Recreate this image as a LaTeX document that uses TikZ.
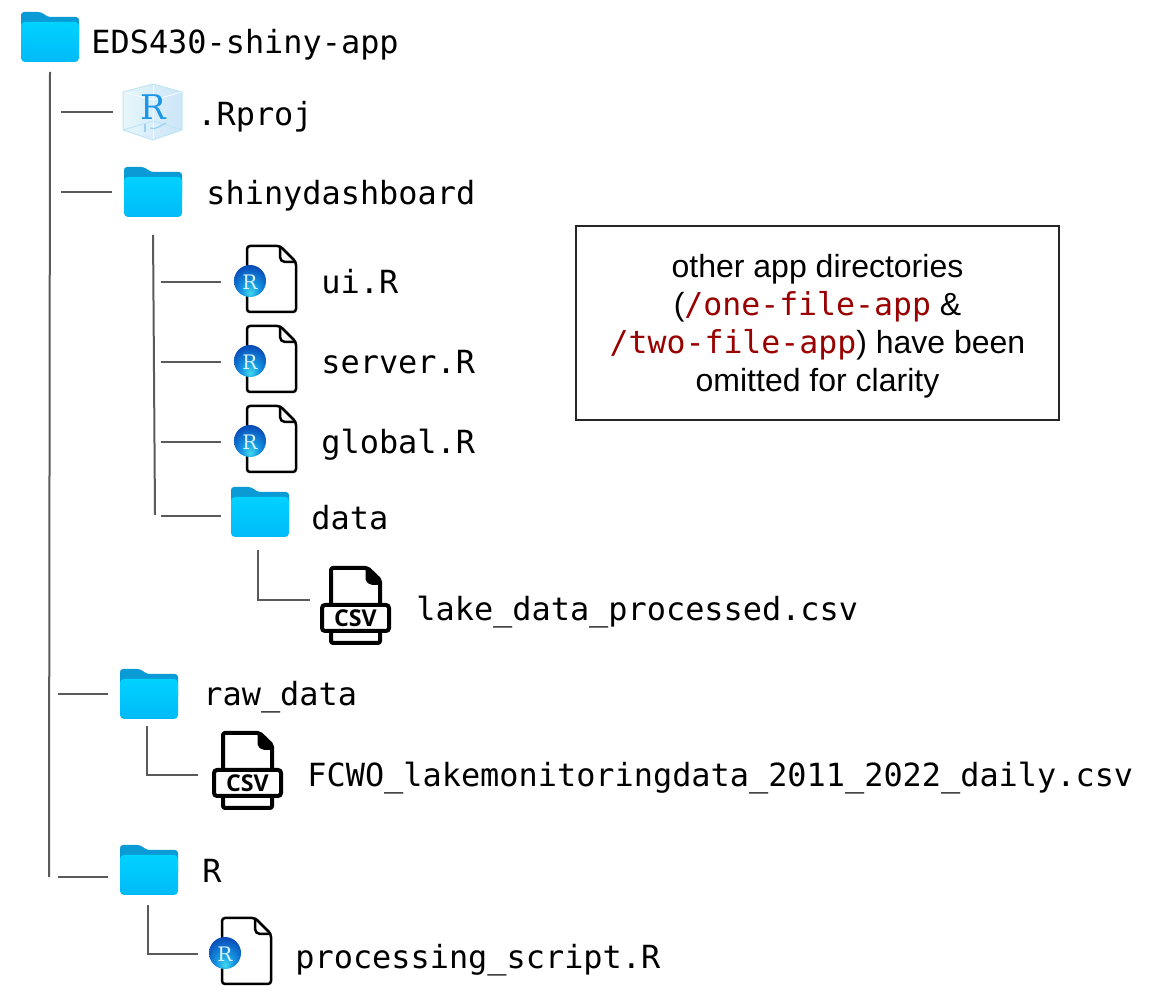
\documentclass[tikz,border=0pt]{standalone}
\usepackage{fontspec}
\setmainfont{Liberation Sans}
\newfontfamily\codefont{DejaVu Sans Mono}
\newfontfamily\iconserif{DejaVu Serif}
\newfontfamily\csvfont{Open Sans}
\definecolor{folderback}{HTML}{0A9BD6}
\definecolor{foldertop}{HTML}{00D2FF}
\definecolor{folderbottom}{HTML}{00BAF8}
\definecolor{cubeleft}{HTML}{E6F6FA}
\definecolor{cuberight}{HTML}{CCE5F8}
\definecolor{cubeedge}{HTML}{BFE6F4}
\definecolor{rblue}{HTML}{1C96E6}
\definecolor{treeline}{HTML}{5A5A5A}
\definecolor{codered}{HTML}{990000}
\pgfdeclareradialshading{rball}{\pgfpoint{0bp}{-20bp}}{rgb(0bp)=(.25,.85,.93);rgb(14bp)=(.08,.58,.88);rgb(30bp)=(.04,.32,.74);rgb(50bp)=(.03,.22,.58)}
\tikzstyle{every node}+=[inner sep=0pt]
\tikzstyle{filename}=[anchor=base west,font=\codefont\fontsize{15.95}{19}\selectfont]
\tikzstyle{conn}=[treeline,line width=1pt]
\tikzstyle{foldericonbox}=[minimum width=29pt,minimum height=25pt,outer sep=6pt]
\tikzstyle{rfileiconbox}=[minimum width=16pt,minimum height=16pt,outer sep=6.5pt]
\tikzstyle{csviconbox}=[minimum width=35.5pt,minimum height=1pt,outer sep=5pt]
\tikzstyle{notebox}=[draw=black!85,line width=1pt,minimum width=241.5pt,minimum height=97pt,align=center,font=\fontsize{16}{19}\selectfont]
\newcommand{\foldericon}[3]{
\begin{scope}[shift={(#2,#3)}]
\fill [folderback,rounded corners=1.5pt] (0,5) -- (0,-25) -- (20,-25) -- (27,-20) -- (58,-20) -- (58,5) -- cycle;
\shade [top color=foldertop,bottom color=folderbottom,rounded corners=2pt] (0,-15) rectangle (58,25);
\node [foldericonbox] (#1) at (29,0) {};
\end{scope}}
\newcommand{\rfileicon}[3]{
\begin{scope}[shift={(#2,#3)}]
\draw [black,fill=white,line width=1.25pt,line join=round,rounded corners=1.5pt] (-3,-36) -- (30,-36) -- (46,-20) -- (46,30) -- (-3,30) -- cycle;
\draw [black,line width=1.25pt,rounded corners=2.5pt] (30,-36) -- (30,-20) -- (46,-20);
\shade [shading=rball] (0,-1) circle (16);
\node [rfileiconbox,text=white!85!cyan,font=\iconserif\fontsize{10}{10}\selectfont] (#1) at (0,0) {R};
\end{scope}}
\newcommand{\csvicon}[4]{
\begin{scope}[shift={(#2,#3)}]
\draw [black,line width=2pt,line join=round,fill=white,rounded corners=1pt] (-24.5,-32) -- (12,-32) -- (24.5,-20) -- (24.5,43) -- (-24.5,43) -- cycle;
\fill [black,rounded corners=1pt] (10,-33) -- (25.5,-19) -- (25.5,-15) -- (15,-15) -- (10,-19) -- cycle;
\draw [black,line width=2pt,fill=white,rounded corners=1.5pt] (-33.5,5) rectangle (33.5,31);
\node [csviconbox] (#1) at (0,#4) {};
\node [font=\csvfont\bfseries\fontsize{11.6}{11.6}\selectfont] (#1text) at (0,18) {CSV};
\end{scope}}
\begin{document}
\begin{tikzpicture}[x=0.5pt,y=-0.5pt]
\useasboundingbox (0,0) rectangle (1152,1004);

\foldericon{rootfolder}{21}{37}
\node [filename] (rootlabel) at (91,54) {EDS430-shiny-app};

\shade [left color=cubeleft,right color=cuberight] (153,84) -- (182,92) -- (182,130) -- (153,140) -- (123,130) -- (123,92) -- cycle;
\draw [white!80!cubeedge,line width=.5pt] (123,92) -- (153,100) -- (182,92);
\draw [white!80!cubeedge,line width=.5pt] (153,84) -- (153,140);
\draw [cubeedge,line width=.5pt] (123,130) -- (153,121) -- (182,130);
\draw [cubeedge,line width=.5pt] (123,92) -- (153,84) -- (182,92) -- (182,130) -- (153,140) -- (123,130) -- cycle;
\draw [rblue!45,line width=.6pt] (145,124) -- (145,132);
\draw [rblue!45,line width=.6pt] (150,128) .. controls (158,130) and (160,125) .. (166,123);
\node [minimum width=29.5pt,minimum height=28pt,outer sep=5.5pt] (rprojcube) at (153,112) {};
\node [rblue,font=\iconserif\fontsize{17}{17}\selectfont] (rprojletter) at (153,107.5) {R};
\node [filename] (rprojlabel) at (197,126) {.Rproj};

\foldericon{shinyfolder}{124}{192}
\node [filename] (shinylabel) at (206,205) {shinydashboard};

\rfileicon{uifile}{250}{282}
\node [filename] (uilabel) at (321,294) {ui.R};
\rfileicon{serverfile}{250}{362}
\node [filename] (serverlabel) at (321,374) {server.R};
\rfileicon{globalfile}{250}{442}
\node [filename] (globallabel) at (321,454) {global.R};

\foldericon{datafolder}{231}{512}
\node [filename] (datalabel) at (311,530) {data};
\csvicon{lakecsv}{355.5}{600}{0}
\node [filename] (lakelabel) at (416,621) {lake\_data\_processed.csv};

\foldericon{rawfolder}{120}{694}
\node [filename] (rawlabel) at (203,706) {raw\_data};
\csvicon{rawcsv}{247.5}{765}{10}
\node [filename] (rawcsvlabel) at (307,787) {FCWO\_lakemonitoringdata\_2011\_2022\_daily.csv};

\foldericon{rfolder}{120}{870}
\node [filename] (rlabel) at (202,883) {R};
\rfileicon{scriptfile}{225}{954}
\node [filename] (scriptlabel) at (295,969) {processing\_script.R};

\node [notebox] (omitnote) at (817.5,323) {\rule{0pt}{15pt}other app directories\\(\textcolor{codered}{\codefont\fontsize{15.75}{19}\selectfont/one-file-app} \&\\\textcolor{codered}{\codefont\fontsize{15.75}{19}\selectfont/two-file-app}) have been\\omitted for clarity};

\coordinate (trunkend) at (49,877);
\coordinate (rprojstart) at (61,112);
\coordinate (shinystart) at (61,192);
\coordinate (rawstart) at (58,694);
\coordinate (rstart) at (58,877);
\coordinate (dashend) at (155,515);
\coordinate (uistart) at (161,282);
\coordinate (serverstart) at (161,362);
\coordinate (globalstart) at (161,442);
\coordinate (datastart) at (161,516);
\coordinate (datastem) at (257.5,550);
\coordinate (rawstem) at (147,726);
\coordinate (rstem) at (147.5,905);

\draw [conn,shorten <=-1pt] (rootfolder.south) -- (trunkend);
\draw [conn] (rprojstart) -- (rprojcube.west);
\draw [conn] (shinystart) -- (shinyfolder.west);
\draw [conn] (rawstart) -- (rawfolder.west);
\draw [conn] (rstart) -- (rfolder.west |- rstart);

\draw [conn,shorten <=3pt] (shinyfolder.south) -- (dashend);
\draw [conn] (uistart) -- (uifile.west);
\draw [conn] (serverstart) -- (serverfile.west);
\draw [conn] (globalstart) -- (globalfile.west);
\draw [conn,shorten >=-1pt] (datastart) -- (datafolder.west |- datastart);

\draw [conn] (datastem) |- (lakecsv.west);
\draw [conn,shorten >=2pt] (rawstem) |- (rawcsv.west);
\draw [conn,shorten >=-1pt] (rstem) |- (scriptfile.west);
\end{tikzpicture}
\end{document}
